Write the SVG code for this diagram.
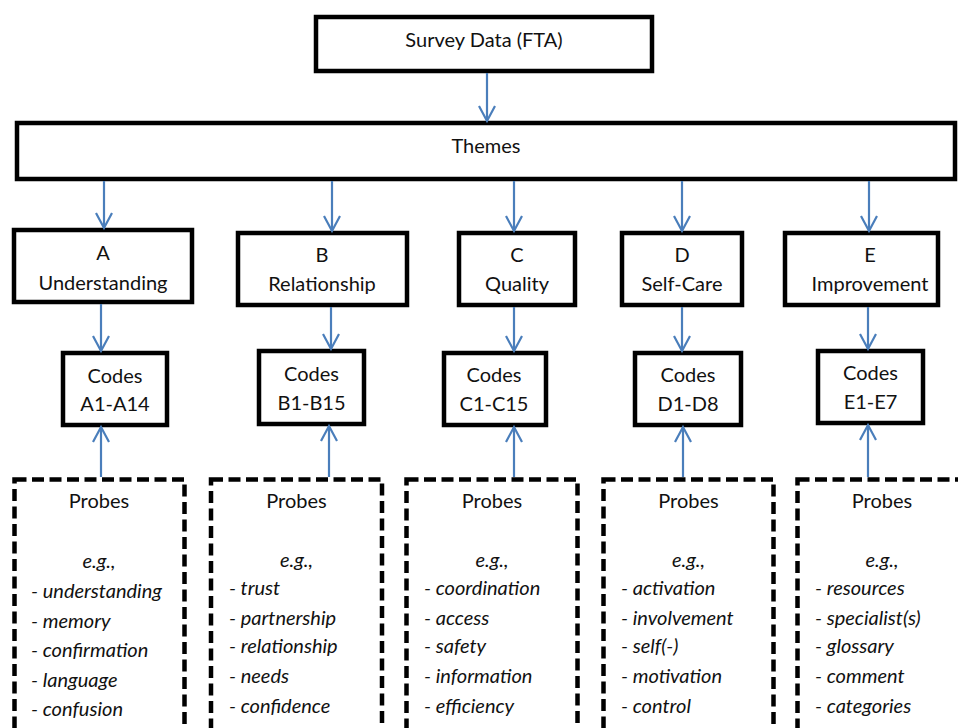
<svg xmlns="http://www.w3.org/2000/svg" width="958" height="728" viewBox="0 0 958 728">
  <defs>
    <style>
      .box { fill: #fff; stroke: #000; stroke-width: 4.5; }
      .probe { fill: #fff; stroke: #000; stroke-width: 4.5; stroke-dasharray: 12 5.5; }
      .t { font-family: Lato, "Liberation Sans", sans-serif; font-size: 20px; fill: #111; text-anchor: middle; }
      .li { font-family: Lato, "Liberation Sans", sans-serif; font-size: 20px; fill: #111; font-style: italic; }
      .eg { text-anchor: middle; }
      .conn line { stroke: #4A7EBB; stroke-width: 2.2; fill: none; }
    </style>
    <marker id="arr" viewBox="-10 -17 20 19" refX="0" refY="0" markerWidth="20" markerHeight="19" markerUnits="userSpaceOnUse" orient="auto-start-reverse" overflow="visible">
      <path d="M-8,-15 L0,0 L8,-15" transform="rotate(-90)" fill="none" stroke="#4A7EBB" stroke-width="2.2"/>
    </marker>
  </defs>

  <!-- top level: survey data and themes -->
  <g id="survey">
    <rect class="box" x="316" y="17" width="336" height="54"/>
    <text class="t" x="484" y="47">Survey Data (FTA)</text>
  </g>
  <g id="themes">
    <rect class="box" x="17" y="123" width="938" height="56"/>
    <text class="t" x="486" y="153">Themes</text>
  </g>

  <!-- theme categories -->
  <g id="theme-a">
    <rect class="box" x="14" y="230" width="178" height="72"/>
    <text class="t" x="103" y="260">A</text>
    <text class="t" x="103" y="290">Understanding</text>
  </g>
  <g id="theme-b">
    <rect class="box" x="238" y="233" width="169" height="72"/>
    <text class="t" x="322" y="262">B</text>
    <text class="t" x="322" y="291">Relationship</text>
  </g>
  <g id="theme-c">
    <rect class="box" x="459" y="233" width="116" height="72"/>
    <text class="t" x="517" y="262">C</text>
    <text class="t" x="517" y="291">Quality</text>
  </g>
  <g id="theme-d">
    <rect class="box" x="622" y="233" width="120" height="72"/>
    <text class="t" x="682" y="262">D</text>
    <text class="t" x="682" y="291">Self-Care</text>
  </g>
  <g id="theme-e">
    <rect class="box" x="785" y="233" width="153" height="72"/>
    <text class="t" x="870" y="262">E</text>
    <text class="t" x="870" y="291">Improvement</text>
  </g>

  <!-- code ranges -->
  <g id="codes-a">
    <rect class="box" x="63" y="353" width="104" height="72"/>
    <text class="t" x="115" y="383">Codes</text>
    <text class="t" x="115" y="411">A1-A14</text>
  </g>
  <g id="codes-b">
    <rect class="box" x="259" y="351" width="105" height="73"/>
    <text class="t" x="311.5" y="381">Codes</text>
    <text class="t" x="311.5" y="410">B1-B15</text>
  </g>
  <g id="codes-c">
    <rect class="box" x="444" y="353" width="102" height="72"/>
    <text class="t" x="494" y="382">Codes</text>
    <text class="t" x="494" y="411">C1-C15</text>
  </g>
  <g id="codes-d">
    <rect class="box" x="635" y="353" width="106" height="72"/>
    <text class="t" x="688" y="382">Codes</text>
    <text class="t" x="688" y="411">D1-D8</text>
  </g>
  <g id="codes-e">
    <rect class="box" x="818" y="351" width="105" height="72"/>
    <text class="t" x="870.5" y="380">Codes</text>
    <text class="t" x="870.5" y="409">E1-E7</text>
  </g>

  <!-- probe lists -->
  <g id="probes-a">
    <rect class="probe" x="14.5" y="479.5" width="170" height="252"/>
    <text class="t" x="99" y="508">Probes</text>
    <text class="li eg" x="99" y="568">e.g.,</text>
    <text class="li" x="31" y="598">- understanding</text>
    <text class="li" x="31" y="628">- memory</text>
    <text class="li" x="31" y="657">- confirmation</text>
    <text class="li" x="31" y="687">- language</text>
    <text class="li" x="31" y="716">- confusion</text>
  </g>
  <g id="probes-b">
    <rect class="probe" x="211" y="479.5" width="171" height="252"/>
    <text class="t" x="296.5" y="508">Probes</text>
    <text class="li eg" x="296.5" y="567">e.g.,</text>
    <text class="li" x="229" y="595">- trust</text>
    <text class="li" x="229" y="625">- partnership</text>
    <text class="li" x="229" y="653">- relationship</text>
    <text class="li" x="229" y="683">- needs</text>
    <text class="li" x="229" y="713">- confidence</text>
  </g>
  <g id="probes-c">
    <rect class="probe" x="406.5" y="479.5" width="171" height="252"/>
    <text class="t" x="492" y="508">Probes</text>
    <text class="li eg" x="492" y="567">e.g.,</text>
    <text class="li" x="424" y="595">- coordination</text>
    <text class="li" x="424" y="625">- access</text>
    <text class="li" x="424" y="653">- safety</text>
    <text class="li" x="424" y="683">- information</text>
    <text class="li" x="424" y="713">- efficiency</text>
  </g>
  <g id="probes-d">
    <rect class="probe" x="603.5" y="479.5" width="170" height="252"/>
    <text class="t" x="688.5" y="508">Probes</text>
    <text class="li eg" x="688.5" y="567">e.g.,</text>
    <text class="li" x="621" y="595">- activation</text>
    <text class="li" x="621" y="625">- involvement</text>
    <text class="li" x="621" y="653">- self(-)</text>
    <text class="li" x="621" y="683">- motivation</text>
    <text class="li" x="621" y="713">- control</text>
  </g>
  <g id="probes-e">
    <rect class="probe" x="797.5" y="479.5" width="171" height="252"/>
    <text class="t" x="882" y="508">Probes</text>
    <text class="li eg" x="882" y="567">e.g.,</text>
    <text class="li" x="815" y="595">- resources</text>
    <text class="li" x="815" y="625">- specialist(s)</text>
    <text class="li" x="815" y="653">- glossary</text>
    <text class="li" x="815" y="683">- comment</text>
    <text class="li" x="815" y="713">- categories</text>
  </g>

  <!-- connectors -->
  <g id="connectors" class="conn">
    <line x1="487" y1="73" x2="487" y2="121" marker-end="url(#arr)"/>
    <line x1="104" y1="181" x2="104" y2="228" marker-end="url(#arr)"/>
    <line x1="332" y1="181" x2="332" y2="231" marker-end="url(#arr)"/>
    <line x1="514" y1="181" x2="514" y2="231" marker-end="url(#arr)"/>
    <line x1="682" y1="181" x2="682" y2="231" marker-end="url(#arr)"/>
    <line x1="869" y1="181" x2="869" y2="231" marker-end="url(#arr)"/>
    <line x1="101" y1="304" x2="101" y2="351" marker-end="url(#arr)"/>
    <line x1="331" y1="307" x2="331" y2="349" marker-end="url(#arr)"/>
    <line x1="514" y1="307" x2="514" y2="351" marker-end="url(#arr)"/>
    <line x1="682" y1="307" x2="682" y2="351" marker-end="url(#arr)"/>
    <line x1="868" y1="307" x2="868" y2="349" marker-end="url(#arr)"/>
    <line x1="101" y1="477" x2="101" y2="427" marker-end="url(#arr)"/>
    <line x1="329" y1="477" x2="329" y2="426" marker-end="url(#arr)"/>
    <line x1="514" y1="477" x2="514" y2="427" marker-end="url(#arr)"/>
    <line x1="683" y1="477" x2="683" y2="427" marker-end="url(#arr)"/>
    <line x1="868" y1="477" x2="868" y2="425" marker-end="url(#arr)"/>
  </g>
</svg>
